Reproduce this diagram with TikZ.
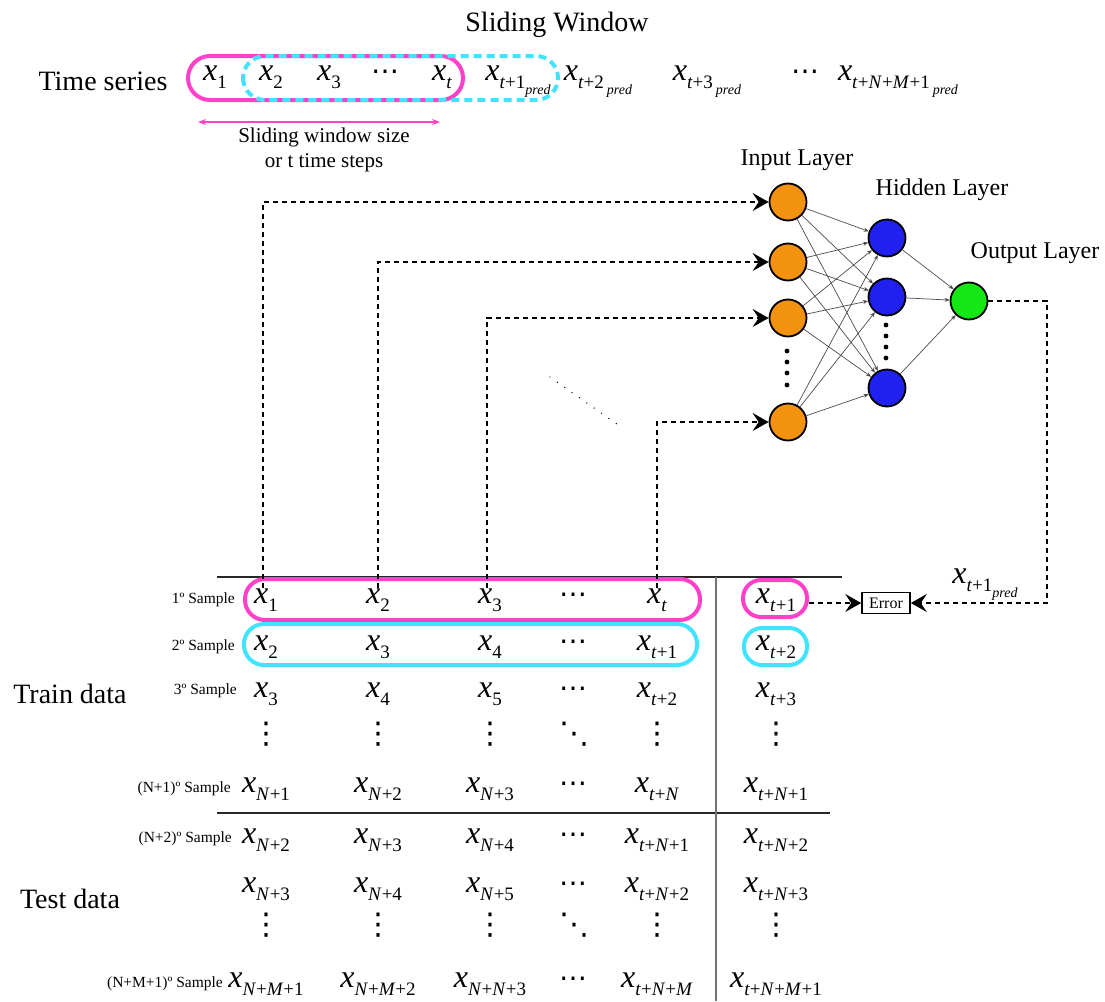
\documentclass[tikz,border=0pt]{standalone}
\usepackage{fontspec}
\setmainfont{Liberation Serif}
\newfontfamily\dotsfont{DejaVu Sans}
\usetikzlibrary{arrows.meta}

\definecolor{winpink}{RGB}{255,64,200}
\definecolor{wincyan}{RGB}{64,228,255}
\definecolor{inorange}{RGB}{242,146,14}
\definecolor{hidblue}{RGB}{32,32,240}
\definecolor{outgreen}{RGB}{20,232,20}

% italic variable, lowered subscripts
\newcommand{\iv}[1]{\textit{#1}}
\newcommand{\sbs}[1]{\raisebox{-0.28em}{\fontsize{19}{19}\selectfont #1}}
\newcommand{\xx}[1]{\textit{x}\sbs{#1}}
\newcommand{\pred}{\raisebox{-0.28em}{\fontsize{14}{14}\selectfont\textit{pred}}}
% dot glyphs
\newcommand{\cds}{{\dotsfont\fontsize{28}{30}\selectfont ⋯}}
\newcommand{\vds}{{\dotsfont\fontsize{30}{32}\selectfont ⋮}}
\newcommand{\dds}{{\dotsfont\fontsize{30}{32}\selectfont ⋱}}

\begin{document}
\begin{tikzpicture}[x=1pt,y=-1pt,
  big/.style={inner sep=0pt, anchor=base, font=\fontsize{28}{33}\selectfont},
  layer/.style={inner sep=0pt, anchor=base, font=\fontsize{24}{28}\selectfont},
  xv/.style={inner sep=0pt, anchor=base, font=\fontsize{32}{36}\selectfont},
  vd/.style={inner sep=0pt, anchor=center},
  samp/.style={inner sep=0pt, anchor=base east, font=\fontsize{15.5}{18}\selectfont},
  neuron/.style={circle, draw=black, line width=1.8pt, minimum size=37pt, inner sep=0pt},
  conn/.style={draw=black!70, line width=0.7pt, -{Stealth[length=5pt,width=4pt]}},
  feed/.style={draw=black, line width=1.4pt, dash pattern=on 5pt off 4pt,
    -{Stealth[length=16pt,width=18pt,inset=6pt]}},
  pinkwin/.style={draw=winpink, line width=4pt},
  cyanwin/.style={draw=wincyan, line width=4pt},
  winarrow/.style={draw=winpink, line width=1.2pt,
    {Stealth[length=8pt,width=6pt]}-{Stealth[length=8pt,width=6pt]}},
  rulethick/.style={draw=black!85, line width=2.6pt},
  rulegray/.style={draw=black!55, line width=1.6pt},
  errbox/.style={draw=black, line width=1.6pt, inner sep=0pt, minimum width=48pt,
    minimum height=21pt, font=\fontsize{16}{18}\selectfont},
]
\useasboundingbox (0,0) rectangle (1105,1001);
\fill[white] (0,0) rectangle (1105,1001);

% ---------- sliding window over the series ----------
\node[big] (title) at (557,31) {Sliding Window};
\node[big] (tslabel) at (103,90) {Time series};

\draw[pinkwin, rounded corners=22pt] (188,56) rectangle (463,100);
\draw[cyanwin, dash pattern=on 8pt off 5pt, rounded corners=22pt] (243,56) rectangle (558,100);

\foreach \cx/\tx [count=\k] in {
  215/\xx{1}, 271/\xx{2}, 329/\xx{3}, 385/\cds, 442/\xx{\iv{t}},
  518/\xx{\iv{t}+1\pred}, 598/\xx{\iv{t}+2\hspace{3pt}\pred},
  707/\xx{\iv{t}+3\hspace{3pt}\pred}, 805/\cds,
  898/\xx{\iv{t}+\iv{N}+\iv{M}+1\hspace{3pt}\pred}}
  \node[xv] (s\k) at (\cx,80) {\tx};

\coordinate (wl) at (198,122);
\coordinate (wr) at (440,122);
\draw[winarrow] (wl) -- (wr);
\node[inner sep=0pt, align=center, font=\fontsize{21}{25}\selectfont] (wsize) at (324,150)
  {Sliding window size\\or t time steps};

% ---------- network ----------
\node[layer] (inlbl) at (797,165) {Input Layer};
\node[layer] (hdlbl) at (942,195) {Hidden Layer};
\node[layer] (outlbl) at (1035,258) {Output Layer};

\node[neuron, fill=inorange] (in1) at (788,202) {};
\node[neuron, fill=inorange] (in2) at (788,262) {};
\node[neuron, fill=inorange] (in3) at (788,318) {};
\node[neuron, fill=inorange] (in4) at (788,422) {};
\node[neuron, fill=hidblue] (hd1) at (887,238) {};
\node[neuron, fill=hidblue] (hd2) at (887,297) {};
\node[neuron, fill=hidblue] (hd3) at (887,388) {};
\node[neuron, fill=outgreen] (out) at (969,301) {};

\foreach \yy in {351,362,373,385} \fill (787,\yy) circle (2.4pt);
\foreach \yy in {325,336,347,358} \fill (886,\yy) circle (2.4pt);

\foreach \i in {1,...,4}
  \foreach \h in {1,2,3}
    \draw[conn] (in\i) -- (hd\h);
\foreach \h in {1,2,3}
  \draw[conn] (hd\h) -- (out);

% ---------- data table ----------
\draw[rulethick] (217,577) -- (842,577);
\draw[rulethick] (217,813) -- (830,813);
\draw[rulegray] (716,577) -- (716,1001);

\draw[pinkwin, rounded corners=20pt] (245,579) rectangle (700,620);
\draw[cyanwin, rounded corners=20pt] (244,624) rectangle (697,665);
\node[pinkwin, rounded corners=18pt, minimum width=64pt, minimum height=37pt, inner sep=0pt]
  (tgt1) at (775,598.5) {};
\node[cyanwin, rounded corners=18pt, minimum width=63pt, minimum height=37pt, inner sep=0pt]
  (tgt2) at (775.5,646.5) {};

\node[big] (trainlbl) at (70,703) {Train data};
\node[big] (testlbl) at (70,908) {Test data};

\node[samp] (l1) at (235,603) {1º Sample};
\node[samp] (l2) at (235,650) {2º Sample};
\node[samp] (l3) at (237,694) {3º Sample};
\node[samp] (lN1) at (231,792) {(N+1)º Sample};
\node[samp] (lN2) at (232,842) {(N+2)º Sample};
\node[samp] (lNM) at (223,987) {(N+M+1)º Sample};

\foreach \cx/\tx [count=\k] in {266/\xx{1}, 378/\xx{2}, 490/\xx{3}, 573/\cds,
    657/\xx{\iv{t}}, 776/\xx{\iv{t}+1}}
  \node[xv] (r1c\k) at (\cx,603) {\tx};
\foreach \cx/\tx [count=\k] in {266/\xx{2}, 378/\xx{3}, 490/\xx{4}, 573/\cds,
    657/\xx{\iv{t}+1}, 776/\xx{\iv{t}+2}}
  \node[xv] (r2c\k) at (\cx,650) {\tx};
\foreach \cx/\tx [count=\k] in {266/\xx{3}, 378/\xx{4}, 490/\xx{5}, 573/\cds,
    657/\xx{\iv{t}+2}, 776/\xx{\iv{t}+3}}
  \node[xv] (r3c\k) at (\cx,697) {\tx};
\foreach \cx/\tx [count=\k] in {266/\vds, 378/\vds, 490/\vds, 574/\dds, 657/\vds, 776/\vds}
  \node[vd] (vac\k) at (\cx,734) {\tx};
\foreach \cx/\tx [count=\k] in {266/\xx{\iv{N}+1}, 378/\xx{\iv{N}+2}, 490/\xx{\iv{N}+3},
    573/\cds, 657/\xx{\iv{t}+\iv{N}}, 776/\xx{\iv{t}+\iv{N}+1}}
  \node[xv] (rNac\k) at (\cx,792) {\tx};
\foreach \cx/\tx [count=\k] in {266/\xx{\iv{N}+2}, 378/\xx{\iv{N}+3}, 490/\xx{\iv{N}+4},
    573/\cds, 657/\xx{\iv{t}+\iv{N}+1}, 776/\xx{\iv{t}+\iv{N}+2}}
  \node[xv] (rNbc\k) at (\cx,843) {\tx};
\foreach \cx/\tx [count=\k] in {266/\xx{\iv{N}+3}, 378/\xx{\iv{N}+4}, 490/\xx{\iv{N}+5},
    573/\cds, 657/\xx{\iv{t}+\iv{N}+2}, 776/\xx{\iv{t}+\iv{N}+3}}
  \node[xv] (rNcc\k) at (\cx,892) {\tx};
\foreach \cx/\tx [count=\k] in {266/\vds, 378/\vds, 490/\vds, 574/\dds, 657/\vds, 776/\vds}
  \node[vd] (vbc\k) at (\cx,925) {\tx};
\foreach \cx/\tx [count=\k] in {266/\xx{\iv{N}+\iv{M}+1}, 378/\xx{\iv{N}+\iv{M}+2},
    490/\xx{\iv{N}+\iv{N}+3}, 573/\cds, 657/\xx{\iv{t}+\iv{N}+\iv{M}},
    776/\xx{\iv{t}+\iv{N}+\iv{M}+1}}
  \node[xv] (rNdc\k) at (\cx,987) {\tx};

% ---------- error and feedback ----------
\node[errbox] (err) at (886,603) {Error};
\node[xv] (predlbl) at (985,583) {\xx{\iv{t}+1\pred}};
\coordinate (ocorner) at (1047,603);
\draw[feed] (tgt1.east |- err.west) -- (err.west);
\draw[feed] (out) -| (ocorner) -- (err);

% ---------- samples fed to the input layer ----------
\draw[feed] ([xshift=-3pt]r1c1.north) |- (in1);
\draw[feed] (r1c2.north) |- (in2);
\draw[feed] ([xshift=-3pt]r1c3.north) |- (in3);
\draw[feed] (r1c5.north) |- (in4);

\coordinate (dg1) at (550,377);
\coordinate (dg2) at (621,427);
\draw[line width=1.4pt, line cap=round, dash pattern=on 0pt off 9pt] (dg1) -- (dg2);
\end{tikzpicture}
\end{document}
